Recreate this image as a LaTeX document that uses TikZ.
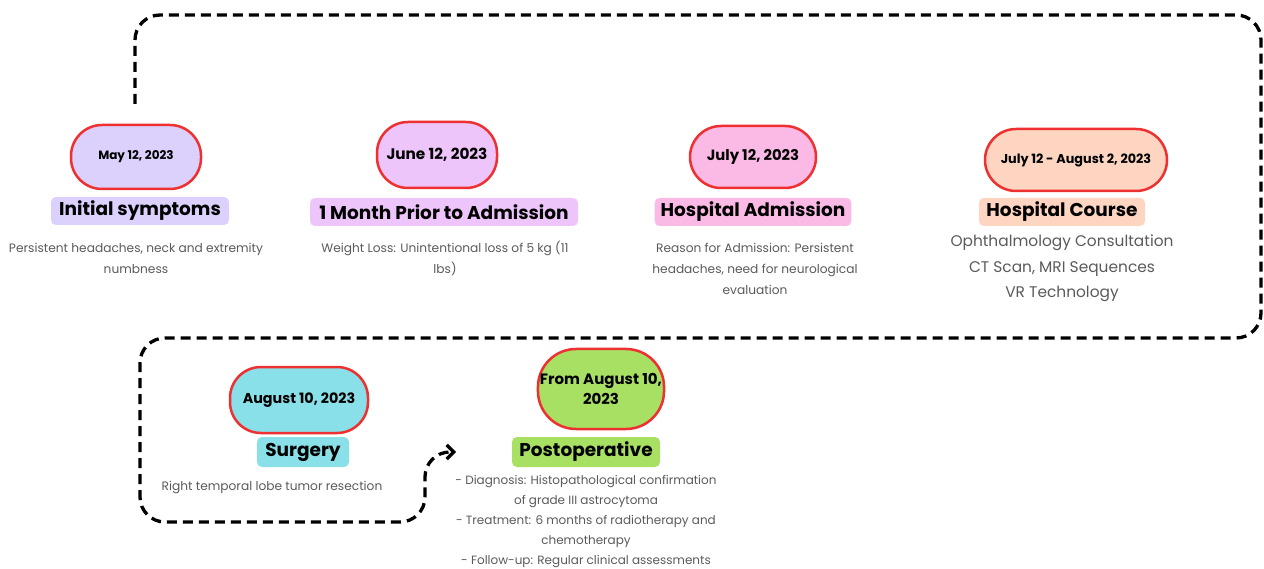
\documentclass[tikz,border=0pt]{standalone}
\usepackage{fontspec}
\setmainfont{Poppins}
\usetikzlibrary{arrows.meta}
\definecolor{rimred}{HTML}{EE3030}
\definecolor{notegray}{HTML}{5A5A5A}
\definecolor{lavender}{HTML}{DCD0FC}
\definecolor{orchid}{HTML}{EDC5FB}
\definecolor{candy}{HTML}{FBB9E6}
\definecolor{peach}{HTML}{FDD5C1}
\definecolor{aqua}{HTML}{8AE0E8}
\definecolor{lime}{HTML}{A8E063}
\tikzset{
  datebox/.style={draw=rimred, line width=2.5pt, rounded corners=31pt, minimum height=64pt, align=center, text=black},
  titlebox/.style={rounded corners=5pt, minimum height=28pt, inner xsep=6pt, inner ysep=2pt, font=\bfseries\fontsize{18.5}{20}\selectfont},
  notetext/.style={align=center, text=notegray, font=\fontsize{12.2}{21}\selectfont},
  flowline/.style={line width=3.3pt, dash pattern=on 10pt off 6pt, rounded corners=25pt}
}
\begin{document}
\begin{tikzpicture}[x=1pt,y=-1pt]
\useasboundingbox (0,0) rectangle (1264,569);
% dates
\node[datebox, fill=lavender, minimum width=130pt, font=\bfseries\fontsize{12}{14}\selectfont] (d1) at (136,157) {May 12, 2023};
\node[datebox, fill=orchid, minimum width=120pt, minimum height=66pt, font=\bfseries\fontsize{15.3}{18}\selectfont] (d2) at (437,155) {June 12, 2023};
\node[datebox, fill=candy, minimum width=126pt, minimum height=62pt, font=\bfseries\fontsize{14.8}{17}\selectfont] (d3) at (753,157) {July 12, 2023};
\node[datebox, fill=peach, minimum width=182pt, minimum height=62pt, font=\bfseries\fontsize{12.8}{15}\selectfont] (d4) at (1076,160) {July 12 - August 2, 2023};
\node[datebox, fill=aqua, minimum width=138pt, minimum height=66pt, font=\bfseries\fontsize{14.3}{17}\selectfont] (d5) at (299,400) {August 10, 2023};
\node[datebox, fill=lime, minimum width=124pt, minimum height=80pt, rounded corners=38pt, inner xsep=2pt, font=\bfseries\fontsize{15}{20}\selectfont] (d6) at (601,389) {From August 10,\\2023};
% titles
\node[titlebox, fill=lavender, minimum width=178pt] (t1) at (140,211) {Initial symptoms};
\node[titlebox, fill=orchid, minimum width=268pt] (t2) at (444,212) {1 Month Prior to Admission};
\node[titlebox, fill=candy, minimum width=192pt] (t3) at (753,212) {Hospital Admission};
\node[titlebox, fill=peach, minimum width=166pt] (t4) at (1062,212) {Hospital Course};
\node[titlebox, fill=aqua, minimum width=92pt, minimum height=30pt] (t5) at (303,452) {Surgery};
\node[titlebox, fill=lime, minimum width=148pt, minimum height=30pt] (t6) at (586,452) {Postoperative};
% notes
\node[notetext] (n1) at (136,258.5) {Persistent headaches, neck and extremity\\numbness};
\node[notetext] (n2) at (445,258.5) {Weight Loss: Unintentional loss of 5 kg (11\\lbs)};
\node[notetext] (n3) at (755,269) {Reason for Admission: Persistent\\headaches, need for neurological\\evaluation};
\node[notetext, font=\fontsize{15.4}{25.5}\selectfont] (n4) at (1062,268.5) {Ophthalmology Consultation\\CT Scan, MRI Sequences\\VR Technology};
\node[notetext] (n5) at (272,488) {Right temporal lobe tumor resection};
\node[notetext, font=\fontsize{12}{20}\selectfont] (n6) at (586,522) {- Diagnosis: Histopathological confirmation\\of grade III astrocytoma\\- Treatment: 6 months of radiotherapy and\\chemotherapy\\- Follow-up: Regular clinical assessments};
% dashed flow
\coordinate (c0) at (135,104);
\coordinate (c1) at (456,452);
\draw[flowline, -{Straight Barb[length=7pt,width=14pt]}] (c0) -- (135,15) -- (1261,15) -- (1261,338) -- (140,338) -- (140,522) -- (425,522) -- (425,452) [rounded corners=14pt] -- (c1);
\end{tikzpicture}
\end{document}
